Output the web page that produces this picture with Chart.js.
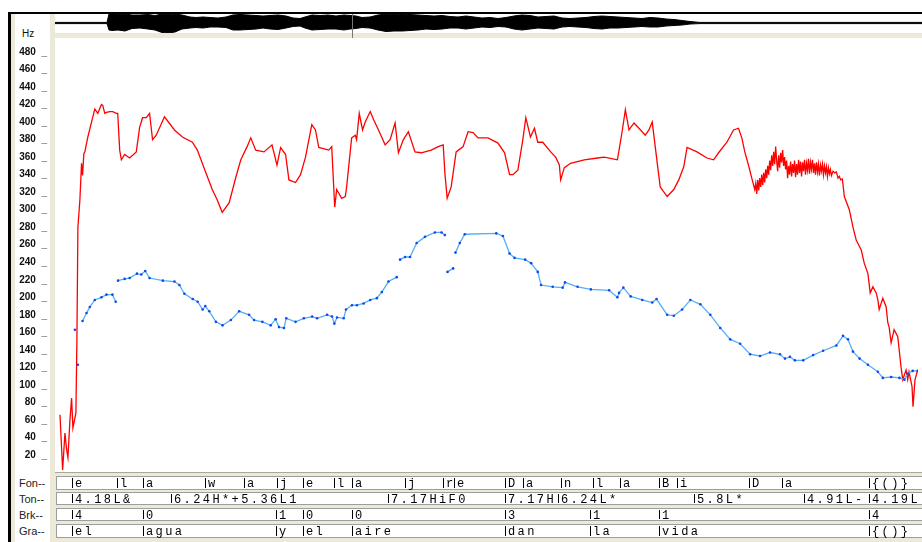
<!DOCTYPE html>
<html lang="es">
<head>
<meta charset="UTF-8">
<title>F0 - el agua y el aire dan la vida</title>
<script src="https://cdn.jsdelivr.net/npm/chart.js@4.4.1/dist/chart.umd.min.js"></script>
<style>
  * { margin: 0; padding: 0; box-sizing: border-box; }
  body { width: 922px; height: 542px; background: #fff; position: relative; overflow: hidden;
         font-family: "Liberation Sans", Arial, sans-serif; }
  .abs { position: absolute; }
  #frameTop { left: 8px; top: 12px; width: 914px; height: 2px; background: #000; }
  #frameLeft { left: 8px; top: 12px; width: 3px; height: 530px; background: #000; }
  #sideStrip { left: 11px; top: 14px; width: 4px; height: 528px; background: #ECE9D8; }
  #axisStrip { left: 50px; top: 14px; width: 5px; height: 528px; background: #ECE9D8; }
  #waveStrip { left: 55px; top: 33px; width: 867px; height: 5px; background: #ECE9D8; }
  #plotLine { left: 55px; top: 472px; width: 867px; height: 1px; background: #ACA899; }
  #tierBg { left: 55px; top: 473px; width: 867px; height: 69px; background: #ECE9D8; }
  #cursor { left: 352px; top: 14px; width: 1px; height: 24px; background: #777; z-index: 3; }
  .tierName { position: absolute; left: 19px; font-size: 11px; color: #222; line-height: 12px; }
  #hz { left: 22px; top: 28px; font-size: 10px; color: #111; }
  #main { position: absolute; left: 0; top: 0; z-index: 1; }
  #wave { position: absolute; left: 55px; top: 13px; z-index: 2; }
</style>
</head>
<body>
<div class="abs" id="frameTop"></div>
<div class="abs" id="frameLeft"></div>
<div class="abs" id="sideStrip"></div>
<div class="abs" id="axisStrip"></div>
<div class="abs" id="waveStrip"></div>
<div class="abs" id="plotLine"></div>
<div class="abs" id="tierBg"></div>
<div class="abs" id="cursor"></div>
<div class="abs" id="hz">Hz</div>
<div class="tierName" style="top:477px">Fon--</div>
<div class="tierName" style="top:493px">Ton--</div>
<div class="tierName" style="top:509px">Brk--</div>
<div class="tierName" style="top:525px">Gra--</div>

<canvas id="main" width="922" height="542"></canvas>
<canvas id="wave" width="867" height="20"></canvas>

<script>
// time axis in ms, frequency in Hz
const xMax = 2601;
const yMax = 496;
const yTicks = [20, 40, 60, 80, 100, 120, 140, 160, 180, 200, 220, 240, 260, 280, 300,
                320, 340, 360, 380, 400, 420, 440, 460, 480];

// red contour
const redT = [15, 23, 30, 35, 39, 45, 50, 54, 63, 66, 69, 75, 80, 83, 87, 90, 99, 110, 120, 129,
  140, 144, 150, 155, 165, 174, 185, 189, 195, 200, 210, 225, 245, 255, 264, 275, 285, 294, 305, 330,
  360, 384, 414, 429, 455, 474, 489, 504, 525, 545, 560, 579, 590, 605, 630, 654, 669, 680, 695, 705,
  725, 740, 755, 774, 785, 795, 825, 834, 843, 849, 864, 875, 879, 894, 905, 909, 917, 927, 935, 950,
  960, 975, 995, 1010, 1025, 1035, 1050, 1065, 1085, 1104, 1134, 1155, 1170, 1175, 1182, 1194, 1209, 1230, 1245, 1260,
  1275, 1305, 1335, 1355, 1370, 1380, 1395, 1410, 1419, 1433, 1445, 1455, 1470, 1494, 1509, 1520, 1524, 1535, 1554, 1595,
  1635, 1655, 1695, 1700, 1710, 1719, 1730, 1745, 1760, 1779, 1790, 1800, 1809, 1824, 1845, 1865, 1880, 1895, 1905, 1935,
  1965, 1985, 2000, 2025, 2045, 2060, 2070, 2079, 2090, 2100, 2109,
  2112, 2115, 2118, 2121, 2124, 2127, 2130, 2133, 2136, 2139, 2142, 2145, 2148, 2151, 2154, 2157, 2160, 2163, 2166, 2169,
  2172, 2175, 2178, 2181, 2184, 2187, 2190, 2193, 2196, 2199, 2202, 2205, 2208, 2211, 2214, 2217, 2220, 2223, 2226, 2229,
  2232, 2235, 2238, 2241, 2244, 2247, 2250, 2253, 2256, 2259, 2262, 2265, 2268, 2271, 2274, 2277, 2280, 2283, 2286, 2289,
  2292, 2295, 2298, 2301, 2304, 2307, 2310, 2313, 2316, 2319, 2322, 2325, 2328, 2331, 2334, 2337, 2340, 2345, 2350, 2355,
  2360, 2364, 2368, 2373,
  2379, 2394, 2405, 2415, 2430, 2439, 2450,
  2457, 2465, 2475, 2480, 2484, 2495, 2505, 2510, 2514, 2520, 2529, 2540, 2550, 2555, 2565, 2570, 2574, 2583, 2586, 2592,
  2600];
const redHz = [66, 3, 45, 26, 17, 60, 85, 51, 68, 151, 280, 311, 353, 339, 364, 366, 383, 400, 415, 410,
  420, 419, 410, 411, 412, 412, 410, 410, 368, 357, 363, 359, 366, 394, 405, 405, 410, 380, 385, 406,
  391, 383, 377, 368, 342, 323, 311, 297, 308, 337, 357, 372, 382, 368, 366, 374, 351, 371, 363, 334,
  331, 340, 360, 397, 391, 371, 368, 372, 303, 323, 313, 315, 326, 382, 385, 380, 410, 391, 400, 412,
  403, 391, 374, 380, 399, 365, 380, 389, 366, 365, 368, 372, 374, 342, 313, 326, 366, 372, 389, 388,
  382, 382, 376, 365, 340, 340, 345, 380, 405, 383, 393, 377, 377, 366, 360, 351, 334, 348, 353, 357,
  359, 360, 357, 368, 391, 414, 391, 399, 393, 385, 391, 400, 372, 326, 315, 323, 334, 349, 371, 366,
  359, 357, 365, 377, 391, 393, 382, 366, 351, 336, 323,
  330, 318, 334, 322, 336, 326, 340, 328, 342, 331, 346, 336, 350, 340, 356, 345, 362, 350, 366, 352,
  372, 356, 344, 362, 348, 365, 354, 368, 350, 360, 346, 356, 336, 350, 340, 355, 338, 352, 342, 356,
  337, 352, 340, 357, 342, 355, 338, 354, 344, 357, 340, 353, 345, 358, 341, 354, 346, 357, 342, 353,
  340, 354, 343, 352, 339, 351, 344, 352, 340, 350, 342, 349, 338, 348, 341, 346, 339, 344, 342, 343,
  336, 338, 334, 335,
  315, 300, 280, 265, 254, 239, 227,
  205, 212, 205, 197, 186, 199, 189, 171, 166, 148, 163, 155, 120, 106, 117, 106, 115, 98, 75, 106,
  117];

// blue contour (null = unvoiced gap)
const blueT = [60, 64, 69, 76, 83, 95, 105, 120, 140, 155, 173, 183, 186,
  190, 210, 225, 247, 260, 272, 285, 325, 360, 375, 390, 415, 430, 445, 453, 465, 485, 505, 530, 555, 585,
  600, 625, 650, 665, 675, 690, 697, 725, 750, 775, 790, 820, 835, 842, 850, 870, 877, 895, 910, 930,
  950, 970, 985, 1005, 1030, 1035,
  1040, 1055, 1070, 1090, 1115, 1145, 1165, 1175, 1179,
  1183, 1200, 1203,
  1207, 1220, 1235, 1330, 1350, 1370, 1385, 1417, 1435, 1455, 1465, 1500, 1530, 1537, 1575, 1615, 1670, 1695,
  1700, 1713, 1735, 1770, 1800, 1813, 1845, 1865, 1890, 1915, 1945, 1975, 2005, 2035, 2065, 2095, 2125, 2155,
  2185, 2200, 2215, 2230, 2255, 2285, 2315, 2355, 2375, 2390, 2405, 2425, 2450, 2480, 2495, 2520, 2545, 2560,
  2570, 2585, 2600];
const blueHz = [163, null, 123, null, 173, 182, 189, 197, 200, 203, 203, 195, null,
  219, 221, 222, 227, 226, 230, 222, 219, 218, 214, 204, 198, 195, 186, 190, 184, 172, 168, 174, 184, 180,
  174, 172, 168, 175, 166, 165, 176, 172, 176, 178, 176, 180, 178, 170, 177, 176, 186, 191, 191, 193,
  197, 199, 206, 218, 223, null,
  243, 246, 246, 262, 269, 274, 274, 271, null,
  229, 233, null,
  251, 262, 272, 273, 270, 250, 245, 243, 239, 229, 214, 212, 211, 217, 212, 209, 208, 200,
  205, 211, 201, 197, 194, 198, 180, 179, 186, 197, 192, 180, 165, 152, 147, 135, 133, 137,
  135, 130, 132, 128, 128, 134, 139, 145, 156, 152, 138, 130, 123, 115, 108, 109, 108, 106,
  113, 116, 116];

// waveform envelope (relative amplitude)
const wavT = [0, 156, 162, 171, 189, 210, 231, 255, 279, 300, 321, 339, 360, 381, 405, 423, 444, 465, 489, 513,
  534, 555, 579, 603, 624, 645, 669, 693, 714, 735, 750, 771, 795, 819, 843, 867, 885, 903, 921, 945,
  969, 993, 1017, 1041, 1065, 1089, 1113, 1137, 1161, 1185, 1209, 1233, 1257, 1281, 1305, 1329, 1353, 1377, 1401, 1425,
  1449, 1473, 1497, 1521, 1545, 1569, 1593, 1617, 1641, 1665, 1689, 1713, 1737, 1761, 1785, 1809, 1833, 1857, 1881, 1905,
  1935, 2601];
const wavHi = [0.06, 0.06, 0.9, 0.95, 0.85, 0.9, 0.8, 0.8, 0.85, 0.75, 0.9, 0.85, 0.9, 0.8, 0.6, 0.55, 0.6, 0.55, 0.5, 0.6,
  0.8, 0.85, 0.8, 0.75, 0.7, 0.75, 0.8, 0.7, 0.5, 0.45, 0.6, 0.8, 0.75, 0.8, 0.7, 0.8, 0.75, 0.7, 0.55, 0.6,
  0.8, 0.9, 0.85, 0.9, 0.85, 0.8, 0.75, 0.7, 0.75, 0.65, 0.6, 0.7, 0.6, 0.5, 0.55, 0.45, 0.55, 0.7, 0.8, 0.75,
  0.6, 0.65, 0.7, 0.5, 0.45, 0.5, 0.55, 0.65, 0.7, 0.65, 0.6, 0.55, 0.5, 0.45, 0.55, 0.5, 0.4, 0.35, 0.25, 0.15,
  0.06, 0.06];
const wavLo = [-0.06, -0.06, -0.7, -0.75, -0.7, -0.8, -0.55, -0.5, -0.6, -0.7, -0.95, -1.0, -0.9, -0.6, -0.5, -0.45, -0.5, -0.4, -0.4, -0.45,
  -0.7, -0.7, -0.65, -0.6, -0.5, -0.6, -0.65, -0.5, -0.35, -0.3, -0.5, -0.7, -0.65, -0.6, -0.6, -0.7, -0.6, -0.55, -0.45, -0.5,
  -0.7, -0.85, -0.8, -0.8, -0.75, -0.7, -0.6, -0.65, -0.6, -0.5, -0.5, -0.6, -0.5, -0.4, -0.45, -0.35, -0.4, -0.6, -0.7, -0.6,
  -0.5, -0.55, -0.6, -0.4, -0.35, -0.4, -0.45, -0.55, -0.6, -0.5, -0.5, -0.45, -0.4, -0.35, -0.4, -0.4, -0.3, -0.25, -0.2, -0.1,
  -0.06, -0.06];

// annotation tiers
const fonT = [51, 186, 264, 453, 570, 669, 747, 840, 894, 1056, 1170, 1203, 1356, 1410, 1524, 1620, 1704, 1821, 1875, 2091, 2190, 2454];
const fonLab = ['e', 'l', 'a', 'w', 'a', 'j', 'e', 'l', 'a', 'j', 'r', 'e', 'D', 'a', 'n', 'l', 'a', 'B', 'i', 'D', 'a', '{()}'];
const tonT = [51, 351, 1005, 1356, 1515, 1926, 2256, 2454];
const tonLab = ['4.18L&', '6.24H*+5.36L1', '7.17HiF0', '7.17H', '6.24L*', '5.8L*', '4.91L-', '4.19L'];
const brkT = [51, 264, 666, 747, 894, 1356, 1611, 1821, 2454];
const brkLab = ['4', '0', '1', '0', '0', '3', '1', '1', '4'];
const graT = [51, 264, 666, 747, 894, 1356, 1611, 1821, 2454];
const graLab = ['el', 'agua', 'y', 'el', 'aire', 'dan', 'la', 'vida', '{()}'];

function pts(ts, vs) {
    return ts.map((t, i) => ({ x: t, y: vs[i] }));
}

// tier rows drawn under the plot, aligned on the time scale
const tierPlugin = {
    id: 'tiers',
    afterDraw(chart) {
        const ctx = chart.ctx;
        const xs = chart.scales.x;
        const rows = [
            { t: fonT, lab: fonLab, top: 476, h: 14 },
            { t: tonT, lab: tonLab, top: 492, h: 13 },
            { t: brkT, lab: brkLab, top: 508, h: 13 },
            { t: graT, lab: graLab, top: 524, h: 14 }
        ];
        ctx.save();
        rows.forEach(r => {
            ctx.fillStyle = '#fff';
            ctx.fillRect(56, r.top, 866, r.h);
            ctx.strokeStyle = '#9d9d9d';
            ctx.lineWidth = 1;
            ctx.strokeRect(56.5, r.top + 0.5, 866, r.h - 1);
            ctx.fillStyle = '#000';
            ctx.font = '12px "Liberation Mono"';
            ctx.textBaseline = 'middle';
            r.t.forEach((t, i) => {
                const px = Math.round(xs.getPixelForValue(t));
                ctx.fillRect(px, r.top + 2, 1, r.h - 4);
                [...r.lab[i]].forEach((ch, k) => {
                    ctx.fillText(ch, px + 3 + k * 9.6, r.top + r.h / 2 + 1);
                });
            });
        });
        ctx.restore();
    }
};

new Chart(document.getElementById('main'), {
    type: 'line',
    data: {
        datasets: [
            {
                data: pts(blueT, blueHz),
                borderColor: '#52B0F5',
                borderWidth: 1.3,
                pointRadius: 1.3,
                pointBackgroundColor: '#1446F0',
                pointBorderWidth: 0,
                spanGaps: false,
                tension: 0
            },
            {
                data: pts(redT, redHz),
                borderColor: '#FF0000',
                borderWidth: 1.3,
                pointRadius: 0,
                tension: 0
            }
        ]
    },
    options: {
        responsive: false,
        animation: false,
        devicePixelRatio: 1,
        layout: { padding: { top: 38, bottom: 69.5, left: 0, right: 0 } },
        plugins: { legend: { display: false }, tooltip: { enabled: false } },
        scales: {
            x: { type: 'linear', min: 0, max: xMax, display: false },
            y: {
                min: 0,
                max: yMax,
                afterBuildTicks: s => { s.ticks = yTicks.map(v => ({ value: v })); },
                afterFit: s => { s.width = 55; },
                grid: { display: false, drawTicks: false },
                border: { display: false },
                ticks: {
                    padding: 8,
                    color: '#111',
                    font: { family: 'Liberation Sans', size: 10, weight: 'bold' },
                    callback: v => v + '  _'
                }
            }
        }
    },
    plugins: [tierPlugin]
});

// waveform strip above the plot
new Chart(document.getElementById('wave'), {
    type: 'line',
    data: {
        datasets: [
            { data: pts(wavT, wavHi), borderColor: '#000', borderWidth: 1, backgroundColor: '#000',
              fill: '+1', pointRadius: 0, tension: 0 },
            { data: pts(wavT, wavLo), borderColor: '#000', borderWidth: 1, pointRadius: 0,
              fill: false, tension: 0 }
        ]
    },
    options: {
        responsive: false,
        animation: false,
        devicePixelRatio: 1,
        layout: { padding: 0 },
        plugins: { legend: { display: false }, tooltip: { enabled: false } },
        scales: {
            x: { type: 'linear', min: 0, max: xMax, display: false },
            y: { min: -1, max: 1, display: false }
        }
    }
});
</script>
</body>
</html>
